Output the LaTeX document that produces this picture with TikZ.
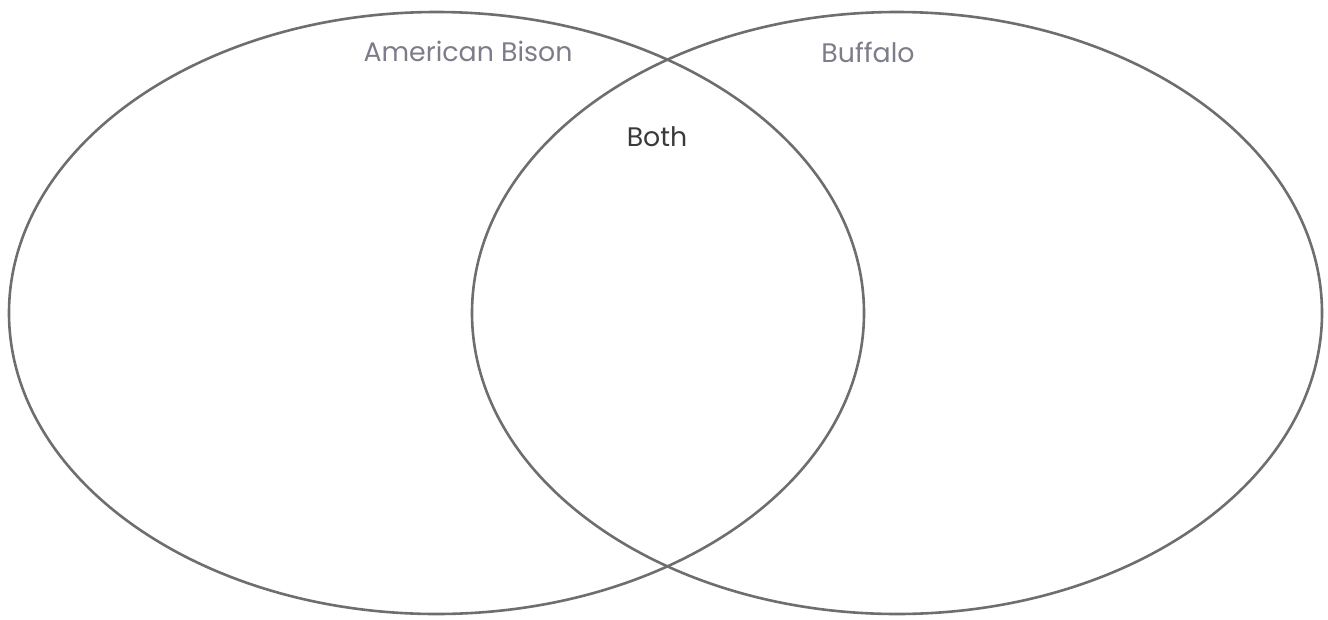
\documentclass[tikz,border=0pt]{standalone}
\usepackage{fontspec}
\usetikzlibrary{shapes.geometric}
\setmainfont{Poppins}
\definecolor{linegray}{HTML}{6E6E6E}
\definecolor{labelgray}{HTML}{7C7C8A}
\definecolor{bothgray}{HTML}{3A3A3A}
\tikzset{
  vennset/.style={draw=linegray, line width=2.6pt, ellipse, inner sep=0pt},
  setlabel/.style={text=labelgray, font=\fontsize{26.8}{32}\selectfont, inner sep=0pt},
  bothlabel/.style={text=bothgray, font=\fontsize{26.8}{32}\selectfont, inner sep=0pt}
}
\begin{document}
\begin{tikzpicture}[x=1pt,y=-1pt]
\useasboundingbox (0,0) rectangle (1328,619);
\node[vennset, minimum width=855pt, minimum height=602pt] (bison) at (436.5,313) {};
\node[vennset, minimum width=850pt, minimum height=602pt] (buffalo) at (897,313) {};
\node[setlabel] (bisonlabel) at (468,51) {American Bison};
\node[setlabel] (buffalolabel) at (868,52) {Buffalo};
\node[bothlabel] (bothlabel) at (657,137) {Both};
\end{tikzpicture}
\end{document}
